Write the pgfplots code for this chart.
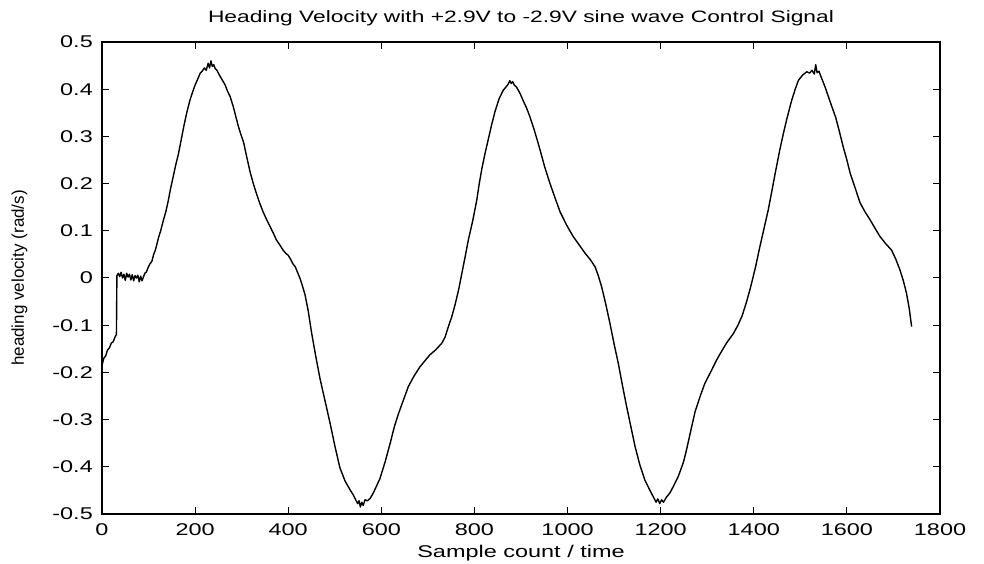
\documentclass[border=0pt]{standalone}
\usepackage{fontspec}
\setmainfont{Liberation Sans}[FakeStretch=1.38]
\newfontfamily\ylabfont{Liberation Sans}
\usepackage{pgfplots}
\pgfplotsset{compat=1.18}
\begin{document}
\begin{tikzpicture}
\begin{axis}[
  scale only axis,
  width=838pt, height=472pt,
  xmin=0, xmax=1800, ymin=-0.5, ymax=0.5,
  xtick={0,200,400,600,800,1000,1200,1400,1600,1800},
  xticklabels={0,200,400,600,800,1000,1200,1400,1600,1800},
  ytick={-0.5,-0.4,-0.3,-0.2,-0.1,0,0.1,0.2,0.3,0.4,0.5},
  yticklabels={-0.5,-0.4,-0.3,-0.2,-0.1,0,0.1,0.2,0.3,0.4,0.5},
  tick align=inside, tick pos=both,
  major tick length=7pt,
  every tick/.style={black, line width=1pt},
  axis line style={line width=1.3pt, black},
  ticklabel pos=left,
  xticklabel style={font=\fontsize{17}{20}\selectfont, inner sep=0pt, anchor=base, yshift=-21.7pt},
  yticklabel style={font=\fontsize{17}{20}\selectfont, inner sep=0pt, anchor=east, xshift=-9pt},
  title={Heading Velocity with +2.9V to -2.9V sine wave Control Signal},
  title style={font=\fontsize{16.5}{20}\selectfont, at={(axis description cs:0.5,1.029)}, anchor=base, inner sep=0pt},
  xlabel={Sample count / time},
  xlabel style={font=\fontsize{17}{20}\selectfont, at={(axis description cs:0.5,-0.0932)}, anchor=base, inner sep=0pt},
  ylabel={heading velocity (rad/s)},
  ylabel style={font=\ylabfont\fontsize{17}{20}\selectfont, at={(axis description cs:-0.0931,0.5)}, anchor=base, rotate=0, inner sep=0pt},
]
\addplot[black, line width=1.4pt, mark=none, line join=round] coordinates {
(0,-0.185) (4,-0.17) (8,-0.165) (12,-0.152) (16,-0.148) (20,-0.138) (24,-0.135) (28,-0.125) (31,-0.12) (32,0.005)
(35,0.01) (38,0.003) (41,0.012) (44,0.0) (47,0.008) (50,-0.005) (53,0.01) (56,0.002) (59,0.008) (62,-0.004)
(65,0.007) (68,-0.006) (71,0.005) (74,0.0) (77,0.006) (80,-0.008) (83,0.004) (86,-0.006) (89,0.002) (92,0.01)
(95,0.012) (99,0.022) (103,0.03) (107,0.035) (111,0.05) (115,0.06) (121,0.084) (126,0.1) (132,0.123) (137,0.14)
(142,0.162) (147,0.188) (153,0.215) (158,0.238) (164,0.262) (170,0.292) (175,0.318) (182,0.35) (189,0.377) (195,0.395)
(200,0.409) (205,0.42) (211,0.434) (215,0.438) (220,0.445) (224,0.44) (228,0.455) (231,0.445) (234,0.46) (237,0.448)
(240,0.452) (243,0.444) (247,0.44) (252,0.43) (258,0.42) (264,0.41) (270,0.395) (275,0.385) (282,0.363) (288,0.34)
(293,0.321) (298,0.305) (304,0.288) (311,0.256) (318,0.225) (325,0.2) (332,0.178) (339,0.158) (346,0.14) (353,0.125)
(361,0.109) (368,0.095) (375,0.08) (382,0.07) (389,0.059) (395,0.052) (400,0.048) (405,0.04) (410,0.03) (415,0.024)
(420,0.012) (425,0.0) (430,-0.015) (436,-0.035) (443,-0.07) (450,-0.115) (459,-0.165) (468,-0.212) (479,-0.26) (490,-0.308)
(500,-0.355) (511,-0.402) (522,-0.43) (533,-0.449) (540,-0.46) (545,-0.47) (549,-0.478) (552,-0.472) (555,-0.485) (558,-0.475)
(561,-0.482) (565,-0.47) (570,-0.472) (576,-0.467) (583,-0.455) (590,-0.44) (597,-0.425) (608,-0.39) (619,-0.35) (628,-0.315)
(637,-0.287) (648,-0.257) (658,-0.23) (670,-0.208) (683,-0.188) (694,-0.175) (704,-0.163) (717,-0.152) (730,-0.138) (737,-0.125)
(744,-0.103) (751,-0.083) (758,-0.058) (766,-0.025) (773,0.01) (780,0.045) (787,0.081) (796,0.12) (805,0.165) (810,0.198)
(816,0.232) (823,0.265) (830,0.295) (837,0.325) (844,0.352) (853,0.38) (862,0.398) (868,0.405) (872,0.41) (876,0.418)
(879,0.412) (882,0.416) (886,0.408) (890,0.405) (894,0.398) (898,0.391) (905,0.375) (912,0.36) (919,0.342) (928,0.315)
(937,0.285) (941,0.271) (951,0.235) (962,0.201) (973,0.17) (984,0.14) (998,0.112) (1012,0.088) (1025,0.07) (1038,0.052)
(1048,0.04) (1059,0.024) (1066,0.005) (1073,-0.018) (1082,-0.055) (1091,-0.096) (1100,-0.14) (1109,-0.181) (1118,-0.228) (1127,-0.273)
(1136,-0.315) (1145,-0.357) (1155,-0.395) (1166,-0.428) (1177,-0.45) (1185,-0.465) (1190,-0.475) (1194,-0.468) (1198,-0.478) (1202,-0.47)
(1206,-0.475) (1212,-0.465) (1220,-0.455) (1227,-0.442) (1238,-0.42) (1249,-0.39) (1256,-0.362) (1265,-0.322) (1274,-0.283) (1285,-0.25)
(1295,-0.223) (1308,-0.198) (1320,-0.174) (1331,-0.155) (1342,-0.137) (1356,-0.118) (1366,-0.1) (1375,-0.08) (1384,-0.052) (1393,-0.02) (1403,0.02)
(1413,0.066) (1422,0.105) (1431,0.144) (1439,0.185) (1446,0.222) (1456,0.272) (1464,0.308) (1471,0.337) (1481,0.375) (1489,0.4)
(1496,0.419) (1505,0.43) (1514,0.437) (1520,0.434) (1525,0.44) (1530,0.432) (1533,0.452) (1536,0.435) (1540,0.438) (1545,0.425)
(1553,0.405) (1560,0.385) (1567,0.365) (1576,0.34) (1584,0.31) (1592,0.278) (1600,0.25) (1607,0.222) (1618,0.19) (1628,0.16)
(1639,0.14) (1650,0.123) (1660,0.106) (1671,0.088) (1684,0.072) (1696,0.059) (1705,0.04) (1714,0.017) (1721,-0.005) (1728,-0.032)
(1734,-0.065) (1739,-0.103)
};
\end{axis}
\pgfresetboundingbox
\useasboundingbox (-102pt,-50pt) rectangle (882pt,514pt);
\end{tikzpicture}
\end{document}
